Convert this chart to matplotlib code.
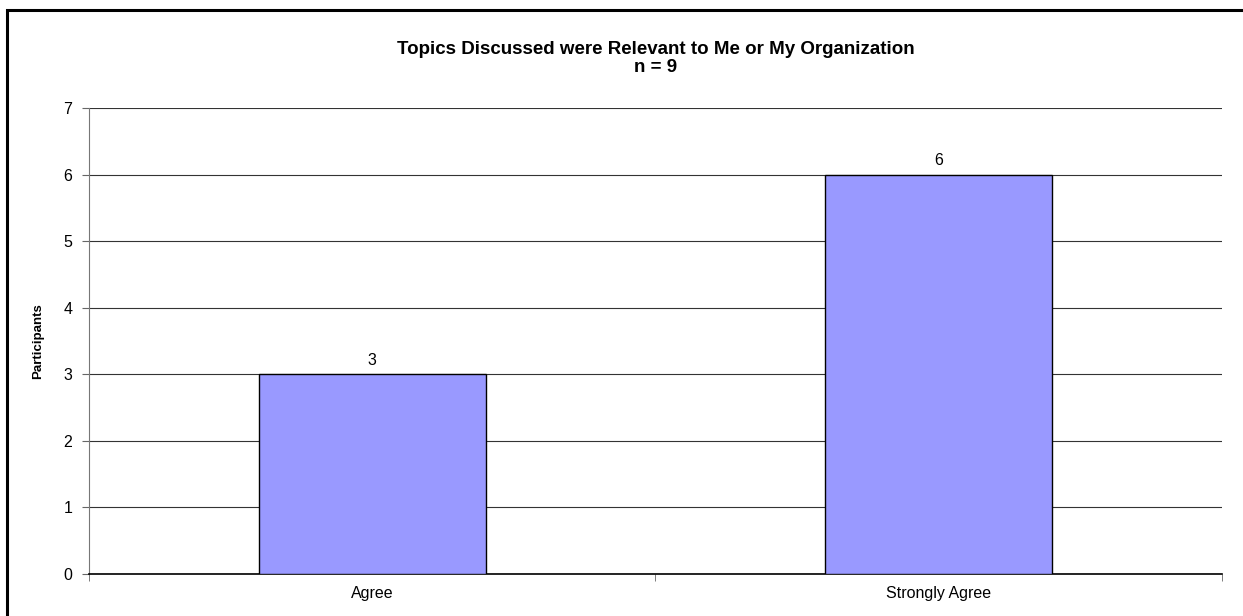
import matplotlib.pyplot as plt
from matplotlib.patches import Rectangle

plt.rcParams['font.family'] = ['Liberation Sans', 'DejaVu Sans']

categories = ["Agree", "Strongly Agree"]
counts = [3, 6]
title = "Topics Discussed were Relevant to Me or My Organization\nn = 9"

fig = plt.figure(figsize=(12.43, 6.16), dpi=100)
ax = fig.add_axes([0.0716, 0.0682, 0.9115, 0.7565])

# outer chart frame
fig.patches.append(Rectangle((7 / 1243, -0.05), 1.1, 1.05 - 10 / 616,
                             transform=fig.transFigure, fill=False,
                             edgecolor='black', linewidth=2.2))

x = list(range(len(categories)))
bars = ax.bar(x, counts, width=0.4, color='#9999FF', edgecolor='black',
              linewidth=1.0, zorder=3)
for b, v in zip(bars, counts):
    ax.text(b.get_x() + b.get_width() / 2, v + 0.1, str(v),
            ha='center', va='bottom', fontsize=11.5)

ax.set_xlim(-0.5, len(categories) - 0.5)
ax.set_ylim(0, 7)
ax.set_yticks(range(0, 8))
ax.yaxis.grid(True, color='#333333', linewidth=0.8, zorder=0)
ax.set_xticks(x)
ax.set_xticklabels(categories, fontsize=11.5)
ax.set_xticks([i - 0.5 for i in range(len(categories) + 1)], minor=True)
ax.tick_params(axis='x', which='major', length=0, pad=9)
ax.tick_params(axis='x', which='minor', length=5, color='#666666')
ax.tick_params(axis='y', length=5, color='#666666', labelsize=11.5, pad=7)

for s in ['top', 'right']:
    ax.spines[s].set_visible(False)
ax.spines['left'].set_color('#777777')
ax.spines['bottom'].set_color('black')
ax.spines['bottom'].set_linewidth(1.2)

ax.set_ylabel("Participants", fontsize=9.5, fontweight='bold', labelpad=14)
ax.set_title(title, fontsize=13.5, fontweight='bold', pad=26, linespacing=1.1)

fig.savefig("out.png", dpi=100)
